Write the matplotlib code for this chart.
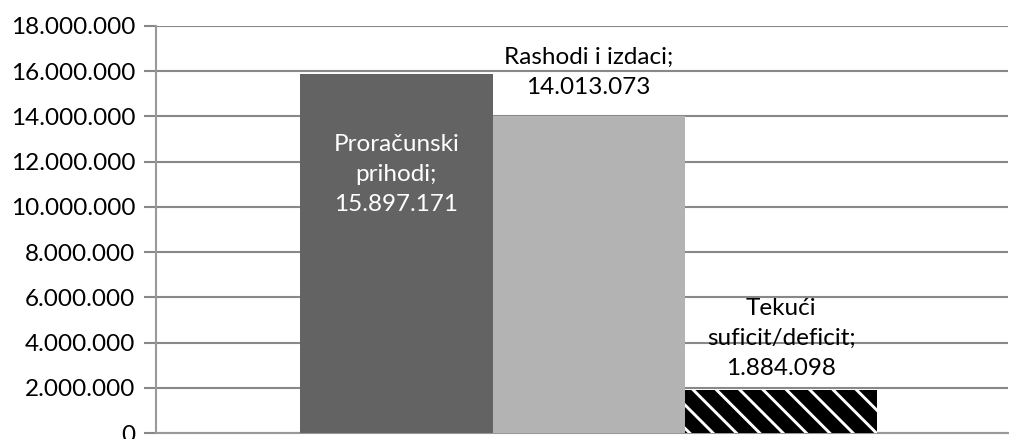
import matplotlib
matplotlib.use('Agg')
import matplotlib.pyplot as plt
from matplotlib.ticker import FuncFormatter

# dpi 140 da šrafura dobije gustoću pruga kao u originalu
DPI = 140
S = 100 / DPI

plt.rcParams['font.family'] = ['Lato', 'DejaVu Sans']
plt.rcParams['hatch.linewidth'] = 1.5

# ── podaci ──
labels = ['Proračunski\nprihodi;', 'Rashodi i izdaci;', 'Tekući\nsuficit/deficit;']
values = [15897171, 14013073, 1884098]
yticks = list(range(0, 18000001, 2000000))

fig = plt.figure(figsize=(1009 / DPI, 439 / DPI), dpi=DPI)
ax = fig.add_axes([156 / 1009, 1 - 433 / 439, 852 / 1009, 407 / 439])

xs = [0, 1, 2]
colors = ['#636363', '#b3b3b3', 'black']
ax.bar(xs, values, width=1.0, color=colors, linewidth=0, zorder=3)
# bijele kose pruge preko crnog stupca
ax.bar(xs[2], values[2], width=1.0, facecolor='none', edgecolor='white',
       hatch='\\\\', linewidth=0, zorder=4)

ax.set_xlim(-1.25, 3.18)
ax.set_ylim(0, 18000000)
ax.set_yticks(yticks)
ax.yaxis.set_major_formatter(FuncFormatter(lambda v, p: f'{v:,.0f}'.replace(',', '.')))
ax.set_xticks([])
ax.grid(axis='y', color='#888888', linewidth=1.5 * S, zorder=0)
ax.tick_params(axis='y', length=9 * S, width=1.5 * S, color='#888888',
               labelsize=17.5 * S, pad=6 * S)

for side in ['top', 'right']:
    ax.spines[side].set_visible(False)
for side in ['left', 'bottom']:
    ax.spines[side].set_color('#999999')
    ax.spines[side].set_linewidth(1.5 * S)

fmt = lambda v: f'{v:,.0f}'.replace(',', '.')
fs = 17.5 * S

# ── oznake ──
ax.annotate(f'{labels[0]}\n{fmt(values[0])}', xy=(xs[0], values[0]), xytext=(0, -101),
            textcoords='offset pixels', ha='center', va='center', color='white',
            fontsize=fs, linespacing=1.55, zorder=5)
ax.annotate(f'{labels[1]}\n{fmt(values[1])}', xy=(xs[1], values[1]), xytext=(0, 44),
            textcoords='offset pixels', ha='center', va='center', color='black',
            fontsize=fs, linespacing=1.55, zorder=5)
ax.annotate(f'{labels[2]}\n{fmt(values[2])}', xy=(xs[2], values[2]), xytext=(0, 52),
            textcoords='offset pixels', ha='center', va='center', color='black',
            fontsize=fs, linespacing=1.55, zorder=5)

fig.savefig('out.png', dpi=DPI)
